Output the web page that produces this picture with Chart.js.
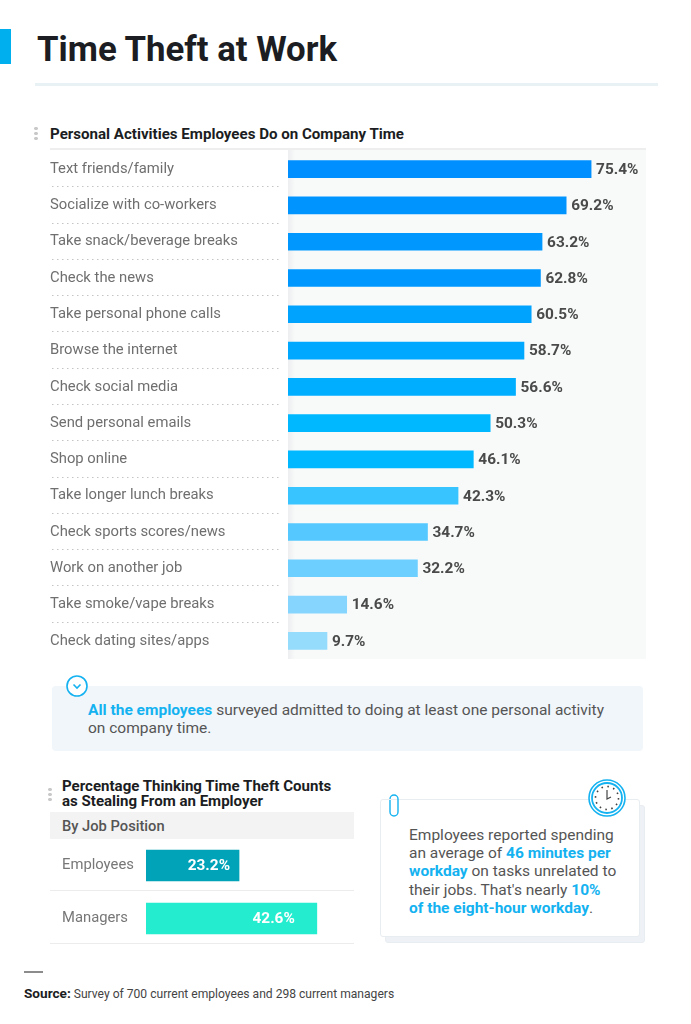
<!DOCTYPE html>
<html>
<head>
<meta charset="utf-8">
<script src="https://cdn.jsdelivr.net/npm/chart.js@4"></script>
<style>
  html, body { margin: 0; padding: 0; background: #fff; }
  body { position: relative; width: 691px; height: 1024px; overflow: hidden; font-family: Roboto, sans-serif; color: #555; }
  .abs { position: absolute; }
  canvas { position: absolute; }
  b.hl { color: #14b2f0; font-weight: 700; }
  .dots { width: 4px; height: 14px; background: radial-gradient(circle, #c9c9c9 1.6px, transparent 2px) 0 0 / 4px 5px repeat-y; }
</style>
</head>
<body>
  <div class="abs" style="left:0;top:29px;width:11px;height:35px;background:#00b0ee"></div>
  <div class="abs" style="left:37px;top:29px;font-size:34.8px;line-height:40px;font-weight:700;color:#1b1d22;white-space:nowrap">Time Theft at Work</div>
  <div class="abs" style="left:35px;top:83px;width:623px;height:3px;background:#e8f2f5"></div>

  <div class="abs dots" style="left:34px;top:126px"></div>
  <div class="abs" style="left:50px;top:125px;font-size:15.1px;line-height:18px;font-weight:700;color:#1b1d22;white-space:nowrap">Personal Activities Employees Do on Company Time</div>
  <div class="abs" style="left:50px;top:148px;width:596px;height:2px;background:#eeeeee"></div>
  <div class="abs" style="left:288px;top:150px;width:358px;height:509px;background:linear-gradient(90deg,#eceeef 0,#f8fafa 7px)"></div>
  <canvas id="activityChart" width="691" height="508" style="left:0;top:151px"></canvas>

  <div class="abs" style="left:52px;top:686px;width:591px;height:65px;background:#f1f6fa;border-radius:4px"></div>
  <svg class="abs" style="left:66px;top:675px" width="22" height="22" viewBox="0 0 22 22">
    <circle cx="11" cy="11" r="10" fill="#fff" stroke="#14b2f0" stroke-width="1.6"/>
    <path d="M7.5 9.5 L11 13 L14.5 9.5" fill="none" stroke="#14b2f0" stroke-width="1.6"/>
  </svg>
  <div class="abs" style="left:88px;top:701px;width:540px;font-size:15.5px;line-height:18px;color:#555"><b class="hl">All the employees</b> surveyed admitted to doing at least one personal activity<br>on company time.</div>

  <div class="abs dots" style="left:48px;top:787px"></div>
  <div class="abs" style="left:62px;top:779px;font-size:15.05px;line-height:15px;font-weight:700;color:#1b1d22;white-space:nowrap">Percentage Thinking Time Theft Counts<br>as Stealing From an Employer</div>
  <div class="abs" style="left:50px;top:812px;width:304px;height:27px;background:#f3f3f3"></div>
  <div class="abs" style="left:62px;top:817px;font-size:14.7px;line-height:18px;font-weight:500;color:#555">By Job Position</div>
  <canvas id="positionChart" width="304" height="106" style="left:50px;top:839px"></canvas>

  <div class="abs" style="left:385px;top:805px;width:258px;height:136px;background:#eef2f6;border:1px solid #e8edf2;border-radius:3px"></div>
  <div class="abs" style="left:380px;top:799px;width:258px;height:136px;background:#fff;border:1.5px solid #e8edf2;border-radius:3px"></div>
  <svg class="abs" style="left:386px;top:793px" width="16" height="26" viewBox="0 0 16 26">
    <path d="M4 6 a4 4 0 0 1 8 0 V19 a4 4 0 0 1 -8 0 V7" fill="none" stroke="#14b2f0" stroke-width="1.4"/>
  </svg>
  <svg class="abs" style="left:588px;top:779px" width="38" height="38" viewBox="0 0 38 38">
    <circle cx="19" cy="19" r="18" fill="#fff" stroke="#14b2f0" stroke-width="1.6"/>
    <circle cx="19" cy="19" r="15" fill="#fff" stroke="#14b2f0" stroke-width="1.8"/>
    <circle cx="19" cy="19" r="11.5" fill="none" stroke="#444" stroke-width="1.6" stroke-dasharray="1.6 4.42"/>
    <path d="M19 11 V20 L23 18" fill="none" stroke="#444" stroke-width="1.2"/>
  </svg>
  <div class="abs" style="left:409px;top:826px;width:225px;font-size:15.5px;line-height:18.2px;color:#555;white-space:nowrap">Employees reported spending<br>an average of <b class="hl">46 minutes per</b><br><b class="hl">workday</b> on tasks unrelated to<br>their jobs. That's nearly <b class="hl">10%</b><br><b class="hl">of the eight-hour workday</b>.</div>

  <div class="abs" style="left:24px;top:971px;width:19px;height:2px;background:#8c8c8c"></div>
  <div class="abs" style="left:24px;top:985px;font-size:12.1px;line-height:16px;color:#444;white-space:nowrap"><b style="color:#1b1d22;font-size:13.6px">Source:</b> Survey of 700 current employees and 298 current managers</div>

<script>
// 데이터
const activities = [
  "Text friends/family", "Socialize with co-workers", "Take snack/beverage breaks",
  "Check the news", "Take personal phone calls", "Browse the internet",
  "Check social media", "Send personal emails", "Shop online",
  "Take longer lunch breaks", "Check sports scores/news", "Work on another job",
  "Take smoke/vape breaks", "Check dating sites/apps",
];
const activityValues = [75.4, 69.2, 63.2, 62.8, 60.5, 58.7, 56.6, 50.3, 46.1, 42.3, 34.7, 32.2, 14.6, 9.7];
const activityColors = [
  "#008fff", "#0094ff", "#0098ff", "#0098ff", "#00a4ff", "#00a8ff", "#00aeff",
  "#00b8ff", "#00b8ff", "#38c4ff", "#55c9ff", "#6ccfff", "#85d5ff", "#95dbfb",
];
const positions = ["Employees", "Managers"];
const positionValues = [23.2, 42.6];
const positionColors = ["#00a3b8", "#24eccf"];

// 막대 끝 값 라벨
const valueLabels = {
  id: "valueLabels",
  afterDatasetsDraw(chart, args, opts) {
    const { ctx } = chart;
    ctx.save();
    ctx.font = "700 15.4px Roboto";
    ctx.fillStyle = opts.color;
    ctx.textBaseline = "middle";
    ctx.textAlign = opts.insets ? "right" : "left";
    chart.getDatasetMeta(0).data.forEach((bar, i) => {
      const x = opts.insets ? bar.x - opts.insets[i] : bar.x + 5;
      ctx.fillText(chart.data.datasets[0].data[i].toFixed(1) + "%", x, bar.y + 1);
    });
    ctx.restore();
  },
};

// 행 구분선
const rowLines = {
  id: "rowLines",
  beforeDatasetsDraw(chart, args, opts) {
    const { ctx } = chart;
    const y = chart.scales.y;
    const step = y.getPixelForValue(1) - y.getPixelForValue(0);
    ctx.save();
    ctx.strokeStyle = opts.color;
    ctx.lineWidth = 1;
    ctx.setLineDash(opts.dash);
    chart.data.labels.forEach((label, i) => {
      if (opts.skipLast && i === chart.data.labels.length - 1) return;
      const pos = Math.round(y.getPixelForValue(i) + step / 2) - 0.5 + opts.shift;
      ctx.beginPath();
      ctx.moveTo(opts.from, pos);
      ctx.lineTo(opts.to, pos);
      ctx.stroke();
    });
    ctx.restore();
  },
};

function barOptions(labelLeft, axisEdge, xMax, right, tickColor, tickSize, pluginOpts) {
  return {
    indexAxis: "y",
    responsive: false,
    animation: false,
    layout: { autoPadding: false, padding: { left: labelLeft, right: right, top: 0, bottom: 0 } },
    plugins: {
      legend: { display: false },
      tooltip: { enabled: false },
      valueLabels: pluginOpts.labels,
      rowLines: pluginOpts.lines,
    },
    scales: {
      x: { display: false, min: 0, max: xMax },
      y: {
        afterFit(scale) {
          scale.width = axisEdge - labelLeft;
          // 라벨 여백 때문에 행 간격이 줄어드는 것 방지
          scale.paddingTop = 0;
          scale.paddingBottom = 0;
        },
        grid: { display: false },
        border: { display: false },
        ticks: {
          crossAlign: "far",
          padding: 0,
          autoSkip: false,
          color: tickColor,
          font: { family: "Roboto", size: tickSize },
        },
      },
    },
  };
}

new Chart(document.getElementById("activityChart"), {
  type: "bar",
  data: {
    labels: activities,
    datasets: [{
      data: activityValues,
      backgroundColor: activityColors,
      barThickness: 17,
    }],
  },
  plugins: [valueLabels, rowLines],
  options: barOptions(50, 288, 358 / 4.02, 45, "#6f6f6f", 14.8, {
    labels: { color: "#4a4a4a" },
    lines: { color: "#c4c4c4", dash: [1.5, 3.5], from: 52, to: 281, shift: 0, skipLast: true },
  }),
});

new Chart(document.getElementById("positionChart"), {
  type: "bar",
  data: {
    labels: positions,
    datasets: [{
      data: positionValues,
      backgroundColor: positionColors,
      barThickness: 31,
    }],
  },
  plugins: [valueLabels, rowLines],
  options: barOptions(12, 96, 208 / 4.01, 0, "#777777", 14.8, {
    labels: { color: "#ffffff", insets: [9, 22] },
    lines: { color: "#ececec", dash: [], from: 0, to: 304, shift: -1, skipLast: false },
  }),
});
</script>
</body>
</html>
